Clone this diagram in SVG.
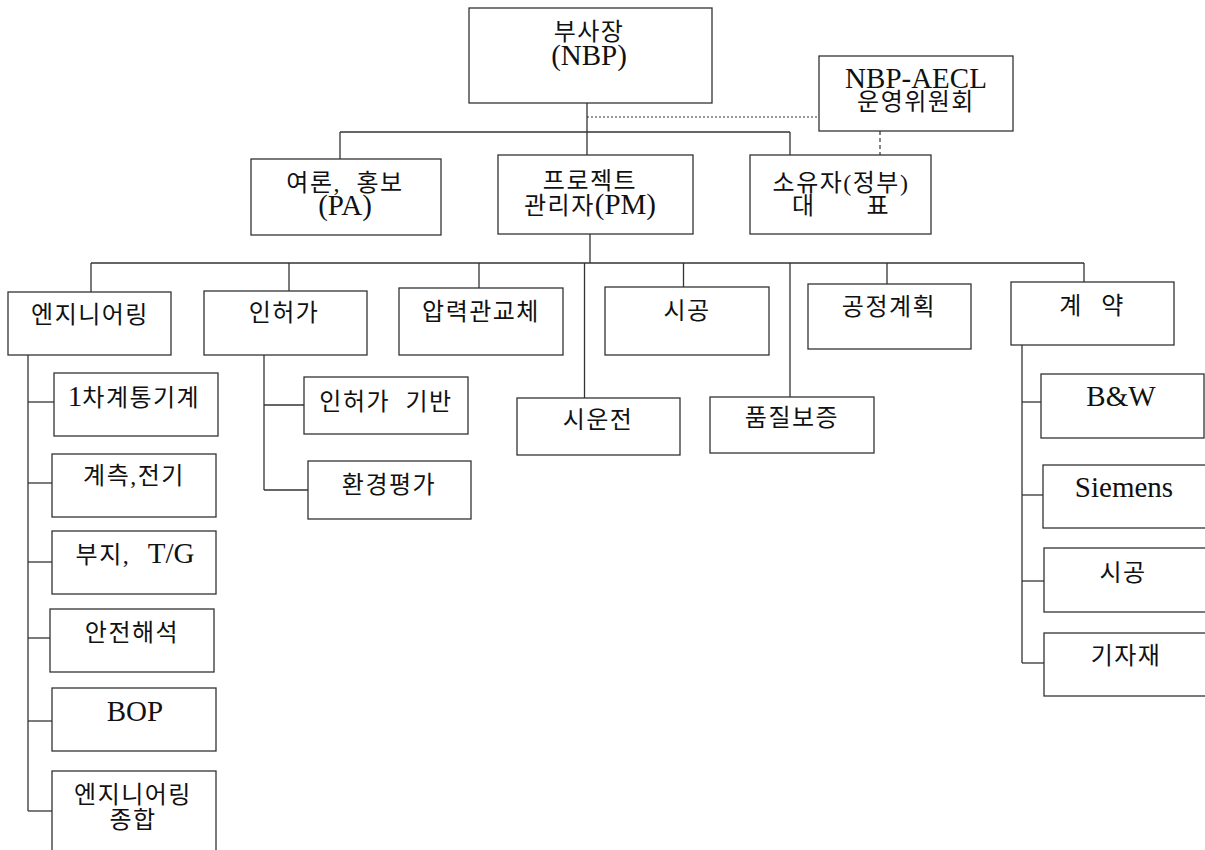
<svg xmlns="http://www.w3.org/2000/svg" width="1205" height="850" viewBox="0 0 1205 850">
<style>
rect{fill:#fff;stroke:#333;stroke-width:1.3}
text{font-family:"Liberation Serif","Noto Sans CJK KR",serif;font-size:24px;fill:#111;text-anchor:middle;letter-spacing:1.5px}
.l{font-size:29px;letter-spacing:0}
#connectors line{stroke:#333;stroke-width:1.3;fill:none}
#connectors .dot{stroke-dasharray:2 2;stroke-width:1.2}
#connectors .dash{stroke-dasharray:4 3;stroke-width:1.2}
</style>
<rect x="0" y="0" width="1205" height="850" style="fill:#fff;stroke:none"/>
<g id="connectors">
<line x1="587" y1="103" x2="587" y2="155"/>
<line class="dot" x1="587" y1="117" x2="819" y2="117"/>
<line class="dash" x1="880" y1="131" x2="880" y2="155"/>
<line x1="340" y1="132" x2="790" y2="132"/>
<line x1="340" y1="132" x2="340" y2="159"/>
<line x1="790" y1="132" x2="790" y2="155"/>
<line x1="590" y1="234" x2="590" y2="263"/>
<line x1="91" y1="263" x2="1084" y2="263"/>
<line x1="91" y1="263" x2="91" y2="292"/>
<line x1="289" y1="263" x2="289" y2="291"/>
<line x1="479" y1="263" x2="479" y2="288"/>
<line x1="584.5" y1="263" x2="584.5" y2="398"/>
<line x1="683.5" y1="263" x2="683.5" y2="287"/>
<line x1="790" y1="263" x2="790" y2="397"/>
<line x1="887" y1="263" x2="887" y2="284"/>
<line x1="1084" y1="263" x2="1084" y2="282"/>
<line x1="28" y1="355" x2="28" y2="811"/>
<line x1="28" y1="402" x2="54" y2="402"/>
<line x1="28" y1="483" x2="52" y2="483"/>
<line x1="28" y1="562" x2="52" y2="562"/>
<line x1="28" y1="638" x2="50" y2="638"/>
<line x1="28" y1="721" x2="52" y2="721"/>
<line x1="28" y1="811" x2="52" y2="811"/>
<line x1="264" y1="355" x2="264" y2="490"/>
<line x1="264" y1="405" x2="304" y2="405"/>
<line x1="264" y1="490" x2="308" y2="490"/>
<line x1="1022" y1="345" x2="1022" y2="663"/>
<line x1="1022" y1="402" x2="1041" y2="402"/>
<line x1="1022" y1="495" x2="1043" y2="495"/>
<line x1="1022" y1="581" x2="1044" y2="581"/>
<line x1="1022" y1="663" x2="1044" y2="663"/>
</g>
<g id="vp"><rect x="469" y="8" width="243" height="95"/><text x="589" y="40">부사장<tspan x="589" y="65" class="l">(NBP)</tspan></text></g>
<g id="committee"><rect x="819" y="56" width="194" height="75"/><text x="916" y="88"><tspan class="l">NBP-AECL</tspan><tspan x="916" y="110">운영위원회</tspan></text></g>
<g id="pa"><rect x="251" y="159" width="190" height="76"/><text x="345" y="191" word-spacing="8">여론, 홍보<tspan x="345" y="215" class="l">(PA)</tspan></text></g>
<g id="pm"><rect x="498" y="155" width="195" height="79"/><text x="590" y="189">프로젝트<tspan x="590" y="214">관리자</tspan><tspan class="l">(PM)</tspan></text></g>
<g id="owner"><rect x="750" y="155" width="181" height="79"/><text x="841" y="191">소유자(정부)<tspan x="841" y="214">대　　표</tspan></text></g>
<g id="engineering"><rect x="8" y="292" width="163" height="63"/><text x="90" y="323">엔지니어링</text></g>
<g id="licensing"><rect x="204" y="291" width="163" height="64"/><text x="284" y="321">인허가</text></g>
<g id="tube"><rect x="399" y="288" width="164" height="67"/><text x="481" y="320">압력관교체</text></g>
<g id="construction"><rect x="605" y="287" width="164" height="68"/><text x="687" y="319">시공</text></g>
<g id="schedule"><rect x="808" y="284" width="163" height="65"/><text x="889" y="315">공정계획</text></g>
<g id="contract"><rect x="1011" y="282" width="163" height="63"/><text x="1092" y="314" word-spacing="11">계 약</text></g>
<g id="commissioning"><rect x="517" y="398" width="163" height="57"/><text x="598" y="428">시운전</text></g>
<g id="qa"><rect x="710" y="397" width="164" height="56"/><text x="792" y="426">품질보증</text></g>
<g id="primary"><rect x="54" y="373" width="164" height="63"/><text x="134" y="406"><tspan class="l">1</tspan>차계통기계</text></g>
<g id="ic"><rect x="52" y="454" width="164" height="63"/><text x="134" y="484">계측,전기</text></g>
<g id="site"><rect x="52" y="531" width="164" height="63"/><text x="135" y="563" word-spacing="10">부지, <tspan class="l">T/G</tspan></text></g>
<g id="safety"><rect x="50" y="609" width="164" height="63"/><text x="132" y="641">안전해석</text></g>
<g id="bop"><rect x="52" y="688" width="164" height="63"/><text x="135" y="721" class="l">BOP</text></g>
<g id="enggen"><rect x="52" y="771" width="164" height="100"/><text x="133" y="803">엔지니어링<tspan x="133" y="828">종합</tspan></text></g>
<g id="licbase"><rect x="304" y="377" width="164" height="57"/><text x="386" y="410" word-spacing="8">인허가 기반</text></g>
<g id="env"><rect x="308" y="461" width="163" height="58"/><text x="389" y="493">환경평가</text></g>
<g id="bw"><rect x="1041" y="374" width="163" height="64"/><text x="1121" y="406" class="l">B&amp;W</text></g>
<g id="siemens"><rect x="1043" y="465" width="170" height="63"/><text x="1124" y="497" class="l">Siemens</text></g>
<g id="construction2"><rect x="1044" y="548" width="170" height="64"/><text x="1123" y="581">시공</text></g>
<g id="material"><rect x="1044" y="633" width="170" height="63"/><text x="1126" y="664">기자재</text></g>
</svg>
